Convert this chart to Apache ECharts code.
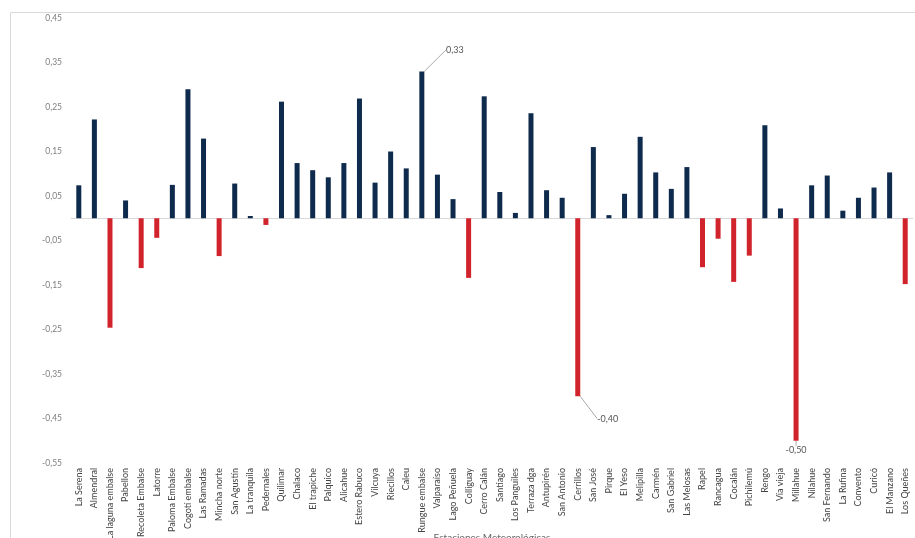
<!DOCTYPE html>
<html>
<head>
<meta charset="utf-8">
<script src="https://cdn.jsdelivr.net/npm/echarts@6/dist/echarts.min.js"></script>
<style>
html,body{margin:0;padding:0;background:#fff;}
#main{width:915px;height:538px;}
</style>
</head>
<body>
<div id="main"></div>
<script>
var estaciones = ['La Serena','Almendral','La laguna embalse','Pabellon','Recoleta Embalse','Latorre','Paloma Embalse','Cogotí embalse','Las Ramadas','Mincha norte','San Agustín','La tranquila','Pedernales','Quilimar','Chalaco','El trapiche','Palquico','Alicahue','Estero Rabuco','Vilcuya','Riecillos','Caleu','Rungue embalse','Valparaíso','Lago Peñuela','Colliguay','Cerro Calán','Santiago','Los Panguiles','Terraza dga','Antupirén','San Antonio','Cerrillos','San José','Pirque','El Yeso','Melipilla','Carmén','San Gabriel','Las Melosas','Rapel','Rancagua','Cocalán','Pichilemú','Rengo','Vía vieja','Millahue','Nilahue','San Fernando','La Rufina','Convento','Curicó','El Manzano','Los Queñes'];

var valores = [0.074,0.222,-0.246,0.040,-0.112,-0.044,0.075,0.290,0.179,-0.085,0.078,0.005,-0.015,0.262,0.124,0.108,0.092,0.124,0.269,0.080,0.150,0.112,0.330,0.098,0.043,-0.134,0.274,0.059,0.012,0.236,0.063,0.046,-0.400,0.160,0.007,0.055,0.183,0.103,0.066,0.115,-0.110,-0.046,-0.143,-0.084,0.209,0.022,-0.500,0.074,0.096,0.017,0.046,0.069,0.103,-0.148];

// estaciones con etiqueta de valor
var etiquetadas = ['Rungue embalse','Cerrillos','Millahue'];

var myChart = echarts.init(document.getElementById('main'));

var fmt = function (v) {
    return v.toFixed(2).replace('.', ',');
};

var datos = valores.map(function (v, i) {
    var item = {value: v};
    if (etiquetadas.indexOf(estaciones[i]) >= 0) {
        item.label = {
            show: true,
            position: v >= 0 ? 'top' : 'bottom',
            distance: 5,
            formatter: function (p) { return fmt(p.value); },
            color: '#555',
            fontSize: 9,
            fontFamily: 'Lato'
        };
    }
    return item;
});

var option = {
    animation: false,
    graphic: [{
        type: 'rect',
        shape: {x: 10.5, y: 12.5, width: 940, height: 560},
        style: {fill: 'none', stroke: '#d9d9d9', lineWidth: 1},
        silent: true
    }],
    grid: {left: 71, right: 2, top: 18, bottom: 75, outerBoundsMode: 'none', containLabel: false},
    xAxis: [{
        type: 'category',
        data: estaciones,
        position: 'bottom',
        axisLine: {show: false, onZero: false},
        axisTick: {show: false},
        axisLabel: {
            rotate: 90,
            interval: 0,
            margin: 5,
            fontSize: 9,
            color: '#444',
            fontFamily: 'Lato'
        },
        name: 'Estaciones Meteorológicas',
        nameLocation: 'middle',
        nameGap: 70,
        nameMoveOverlap: false,
        nameTextStyle: {fontSize: 10, color: '#666', fontFamily: 'Lato'}
    }, {
        type: 'category',
        data: estaciones,
        axisLine: {show: true, onZero: true, lineStyle: {color: '#d9d9d9', width: 1}},
        axisTick: {show: false},
        axisLabel: {show: false}
    }],
    yAxis: {
        type: 'value',
        min: -0.55,
        max: 0.45,
        interval: 0.05,
        axisLine: {show: false},
        axisTick: {show: false},
        splitLine: {show: false},
        axisLabel: {
            margin: 9,
            fontSize: 8.5,
            color: '#7f7f7f',
            fontFamily: 'Lato',
            formatter: function (v) {
                var c = Math.round(Math.abs(v) * 100);
                return c % 10 === 5 ? fmt(v) : '';
            }
        }
    },
    series: [{
        type: 'bar',
        xAxisIndex: 0,
        barWidth: 5,
        data: datos,
        itemStyle: {
            color: function (p) { return p.value >= 0 ? '#0e2a4c' : '#d1232b'; }
        },
        labelLine: {show: true, lineStyle: {color: '#aaa', width: 1}},
        labelLayout: function (p) {
            var n = estaciones[p.dataIndex];
            if (n === 'Rungue embalse') return {dx: 33, dy: -12};
            if (n === 'Cerrillos') return {dx: 30, dy: 13};
            return {};
        }
    }]
};

myChart.setOption(option);
</script>
</body>
</html>
